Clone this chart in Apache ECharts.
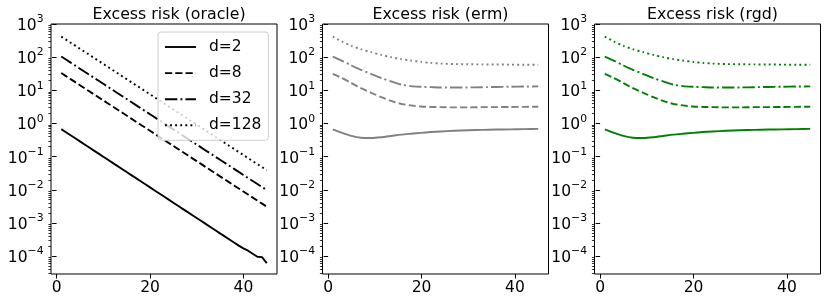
<!DOCTYPE html>
<html><head><meta charset="utf-8">
<script src="https://cdn.jsdelivr.net/npm/echarts@6/dist/echarts.min.js"></script>
<style>html,body{margin:0;padding:0;background:#fff}#c{width:830px;height:303px}</style>
</head><body><div id="c"></div>
<script>
// ---------- data ----------
const titles = ['Excess risk (oracle)', 'Excess risk (erm)', 'Excess risk (rgd)'];
const dims = ['d=2', 'd=8', 'd=32', 'd=128'];
const xTicks = [0, 20, 40];
const yTickExps = [-4, -3, -2, -1, 0, 1, 2, 3];

const oracleX = [1,2,3,4,5,6,7,8,9,10,11,12,13,14,15,16,17,18,19,20,21,22,23,24,25,26,27,28,29,30,31,32,33,34,35,36,37,38,39,40,41,42,43,44,45];
const oracle2 = [0.676,0.546,0.441,0.357,0.288,0.233,0.188,0.152,0.123,0.0994,0.0803,0.0649,0.0525,0.0424,0.0343,0.0277,0.0224,0.0181,0.0146,0.0118,0.00955,0.00772,0.00624,0.00504,0.00407,0.00329,0.00266,0.00215,0.00174,0.00141,0.00114,0.000919,0.000743,0.000600,0.000485,0.000392,0.000317,0.000256,0.000207,0.000170,0.000145,0.000118,0.0000950,0.0000930,0.0000610];
const oracle8 = [33.1,26.8,21.7,17.6,14.2,11.5,9.34,7.56,6.13,4.96,4.02,3.25,2.64,2.13,1.73,1.40,1.13,0.918,0.743,0.602,0.488,0.395,0.320,0.259,0.210,0.170,0.1375,0.1114,0.0902,0.0730,0.0592,0.0479,0.0388,0.0314,0.0254,0.0206,0.0167,0.0135,0.01094,0.00886,0.00718,0.00581,0.00471,0.00381,0.00309];
const oracle32 = [104.6,84.7,68.6,55.6,44.9,36.3,29.5,23.9,19.4,15.7,12.7,10.3,8.34,6.73,5.47,4.42,3.57,2.90,2.35,1.90,1.54,1.25,1.01,0.818,0.664,0.537,0.435,0.352,0.285,0.231,0.187,0.151,0.123,0.0992,0.0803,0.0651,0.0528,0.0427,0.0346,0.0280,0.0227,0.0184,0.0149,0.0120,0.0098];
const oracle128 = [417,338,273,222,179,145,118,95.3,77.2,62.5,50.7,41.0,33.3,26.8,21.8,17.6,14.2,11.6,9.36,7.59,6.15,4.98,4.03,3.26,2.65,2.14,1.73,1.40,1.14,0.920,0.746,0.604,0.489,0.396,0.320,0.260,0.210,0.170,0.138,0.112,0.0905,0.0732,0.0593,0.0480,0.0389];

const ermX = [1,3,5,7,9.25,11.4,13.5,15.6,17.7,19.9,22,24.1,27,30,33,36,39,42,45];
const erm2 = [0.66,0.52,0.42,0.37,0.365,0.385,0.42,0.46,0.49,0.52,0.55,0.575,0.60,0.625,0.64,0.655,0.665,0.675,0.685];
const erm8 = [31.5,23.3,16.5,11.6,8.4,6.2,4.8,3.9,3.5,3.25,3.15,3.1,3.05,3.05,3.1,3.12,3.15,3.17,3.2];
const erm32 = [104,77,56,41.5,31,23.3,18.5,15,13.4,12.8,12.5,12.2,12.1,12.2,12.4,12.6,12.8,13.0,13.1];
const erm128 = [417,295,219,174,141,117,100,87,79,72,67,64,62,61,60.5,60,59.5,59,59];

const rgdX = [1,3,5,7,9.25,11.4,13.5,15.6,17.7,19.9,22,24.1,27,30,33,36,39,42,45];
const rgd2 = [0.66,0.52,0.42,0.37,0.365,0.385,0.42,0.46,0.49,0.52,0.55,0.575,0.60,0.625,0.64,0.655,0.665,0.675,0.685];
const rgd8 = [31.5,23.3,16.5,11.6,8.4,6.2,4.8,3.9,3.5,3.25,3.15,3.1,3.05,3.05,3.1,3.12,3.15,3.17,3.2];
const rgd32 = [104,77,56,41.5,31,23.3,18.5,15,13.4,12.8,12.5,12.2,12.1,12.2,12.4,12.6,12.8,13.0,13.1];
const rgd128 = [417,295,219,174,141,117,100,87,79,72,67,64,62,61,60.5,60,59.5,59,59];

// ---------- layout / style ----------
const FONT = 'DejaVu Sans';
const FS = 15.5;
const yMin = 2.88e-5, yMax = 1000;
const xMin = -1.2, xMax = 47.2;
const panelLefts = [51, 322.5, 594.5];
const panelW = 226, panelTop = 24, panelH = 250;
const colors = ['#000000', '#808080', '#008000'];
const dashes = ['solid', [7.2, 3.1], [12.4, 3.1, 1.9, 3.1], [1.9, 3.2]];
const LW = 1.9;

const panels = [
  {x: oracleX, ys: [oracle2, oracle8, oracle32, oracle128]},
  {x: ermX, ys: [erm2, erm8, erm32, erm128]},
  {x: rgdX, ys: [rgd2, rgd8, rgd32, rgd128]}
];

const majorVals = yTickExps.map(e => Math.pow(10, e));
const minorVals = [];
for (let k = -5; k <= 2; k++) for (let m = 2; m <= 9; m++) {
  const v = m * Math.pow(10, k);
  if (v >= yMin && v <= yMax) minorVals.push(v);
}
function expLabel(v) {
  const e = Math.round(Math.log10(v));
  return '{b|10}{e|' + (e < 0 ? '\u2212' + (-e) : e) + '}';
}

const grid = [], xAxis = [], yAxis = [], series = [], title = [];
panels.forEach((p, i) => {
  grid.push({left: panelLefts[i], top: panelTop, width: panelW, height: panelH,
    show: true, borderColor: '#000', borderWidth: 1, backgroundColor: 'transparent'});
  title.push({text: titles[i], left: panelLefts[i] + panelW / 2, top: 2, textAlign: 'center',
    textStyle: {fontFamily: FONT, fontSize: 15.8, fontWeight: 'normal', color: '#000'}});
  xAxis.push({type: 'value', gridIndex: i, min: xMin, max: xMax, position: 'bottom',
    axisLine: {show: false}, splitLine: {show: false},
    axisTick: {show: true, customValues: xTicks, length: 4.5, lineStyle: {color: '#000', width: 1}},
    axisLabel: {customValues: xTicks, margin: 6, fontFamily: FONT, fontSize: FS, color: '#000'}});
  yAxis.push({type: 'log', logBase: 10, gridIndex: i, min: yMin, max: yMax, position: 'left',
    axisLine: {show: false}, splitLine: {show: false},
    axisTick: {show: true, customValues: majorVals, length: 4.5, lineStyle: {color: '#000', width: 1}},
    axisLabel: {customValues: majorVals, margin: 7.5, align: 'right', color: '#000', formatter: expLabel,
      fontFamily: FONT, fontSize: FS,
      rich: {b: {fontFamily: FONT, fontSize: FS, color: '#000', lineHeight: 20, verticalAlign: 'bottom'},
             e: {fontFamily: FONT, fontSize: 10.8, color: '#000', lineHeight: 11, verticalAlign: 'top'}}}});
  yAxis.push({type: 'log', logBase: 10, gridIndex: i, min: yMin, max: yMax, position: 'left', offset: 0,
    axisLine: {show: false}, splitLine: {show: false}, axisLabel: {show: false},
    axisTick: {show: true, customValues: minorVals, length: 2.6, lineStyle: {color: '#000', width: 0.8}}});
  p.ys.forEach((ys, j) => {
    series.push({
      type: 'line', name: i === 0 ? dims[j] : (titles[i] + ' ' + dims[j]),
      xAxisIndex: i, yAxisIndex: 2 * i,
      data: p.x.map((x, k) => [x, ys[k]]),
      symbol: 'none', showSymbol: false, smooth: i === 0 ? false : 0.25, animation: false,
      lineStyle: {color: colors[i], width: LW, type: dashes[j], cap: 'butt', join: 'round'},
      itemStyle: {color: colors[i]}
    });
  });
});

const legendData = dims.map((d, j) => ({
  name: d,
  itemStyle: {opacity: 0},
  lineStyle: {color: '#000', width: LW, type: dashes[j], cap: 'butt', opacity: 1}
}));

const chart = echarts.init(document.getElementById('c'), null, {renderer: 'canvas'});
chart.setOption({
  animation: false,
  backgroundColor: '#fff',
  title, grid, xAxis, yAxis, series,
  legend: {data: legendData, orient: 'vertical', left: 158, top: 32, itemWidth: 31, itemHeight: 14, itemGap: 10.1,
    padding: [7, 7, 7, 6], borderColor: '#cccccc', borderWidth: 1, borderRadius: 3,
    backgroundColor: 'rgba(255,255,255,0.8)', selectedMode: false,
    itemStyle: {opacity: 0},
    textStyle: {fontFamily: FONT, fontSize: FS, color: '#000', padding: [0, 0, 0, 8]}}
});
</script></body></html>
